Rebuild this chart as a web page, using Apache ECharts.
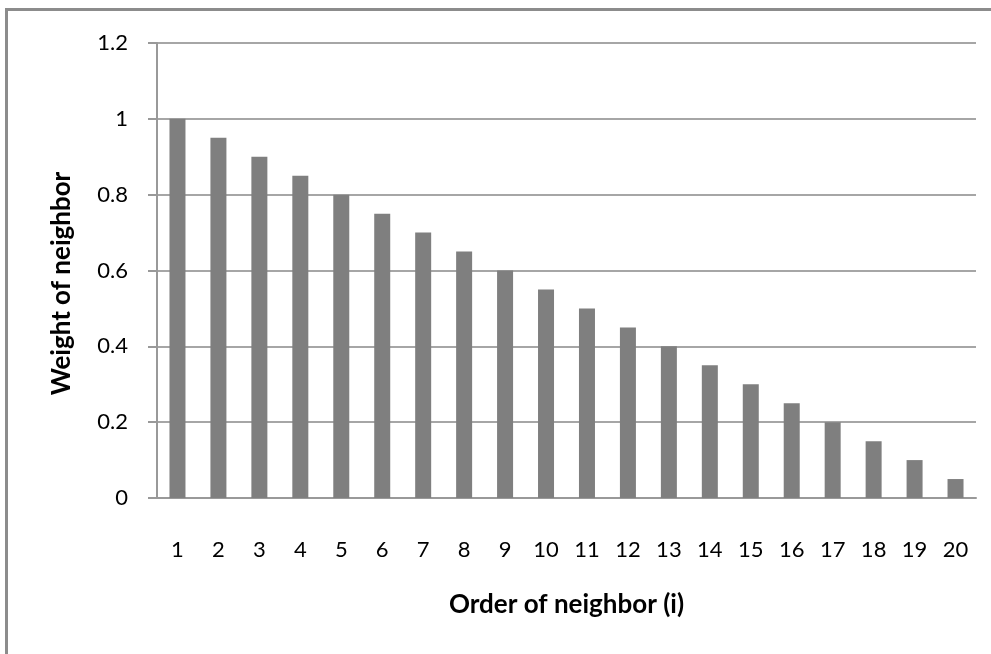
<!DOCTYPE html>
<html>
<head>
<meta charset="utf-8">
<script src="https://cdn.jsdelivr.net/npm/echarts@6/dist/echarts.min.js"></script>
<style>
  html, body { margin: 0; padding: 0; background: #fff; }
  #chart { width: 991px; height: 654px; }
  #frame { position: absolute; left: 5px; top: 8px; width: 1000px; height: 700px; border-left: 3px solid #8c8c8c; border-top: 3px solid #8c8c8c; pointer-events: none; }
</style>
</head>
<body>
<div id="chart"></div>
<div id="frame"></div>
<script>
// Neighbor order (categories) and their weights
const neighborOrder = ['1','2','3','4','5','6','7','8','9','10','11','12','13','14','15','16','17','18','19','20'];
const neighborWeight = [1, 0.95, 0.9, 0.85, 0.8, 0.75, 0.7, 0.65, 0.6, 0.55, 0.5, 0.45, 0.4, 0.35, 0.3, 0.25, 0.2, 0.15, 0.1, 0.05];
const yTicks = { min: 0, max: 1.2, step: 0.2 };

const font = "Lato, 'Open Sans', sans-serif";
const chart = echarts.init(document.getElementById('chart'), null, { renderer: 'canvas' });
chart.setOption({
  animation: false,
  grid: { left: 157, right: 15, top: 43, bottom: 156, containLabel: false },
  xAxis: {
    type: 'category',
    data: neighborOrder,
    name: 'Order of neighbor (i)',
    nameLocation: 'middle',
    nameGap: 94,
    nameTextStyle: { fontFamily: font, fontSize: 26, fontWeight: 'bold', color: '#000' },
    axisLine: { lineStyle: { color: '#999', width: 2 } },
    axisTick: { show: false },
    axisLabel: { fontFamily: font, fontSize: 22, color: '#000', margin: 41 }
  },
  yAxis: {
    type: 'value',
    min: yTicks.min,
    max: yTicks.max,
    interval: yTicks.step,
    name: 'Weight of neighbor',
    nameLocation: 'middle',
    nameGap: 82,
    nameTextStyle: { fontFamily: font, fontSize: 26, fontWeight: 'bold', color: '#000', padding: [0, 26, 0, 0] },
    axisLine: { show: true, lineStyle: { color: '#999', width: 2 } },
    axisTick: { show: true, length: 9, lineStyle: { color: '#999', width: 2 } },
    splitLine: { lineStyle: { color: '#a6a6a6', width: 2 } },
    axisLabel: {
      fontFamily: font, fontSize: 22, color: '#000', margin: 29,
      formatter: v => String(Math.round(v * 10) / 10)
    }
  },
  series: [{
    type: 'bar',
    data: neighborWeight,
    barWidth: 16,
    itemStyle: { color: '#7f7f7f' }
  }]
});
</script>
</body>
</html>
